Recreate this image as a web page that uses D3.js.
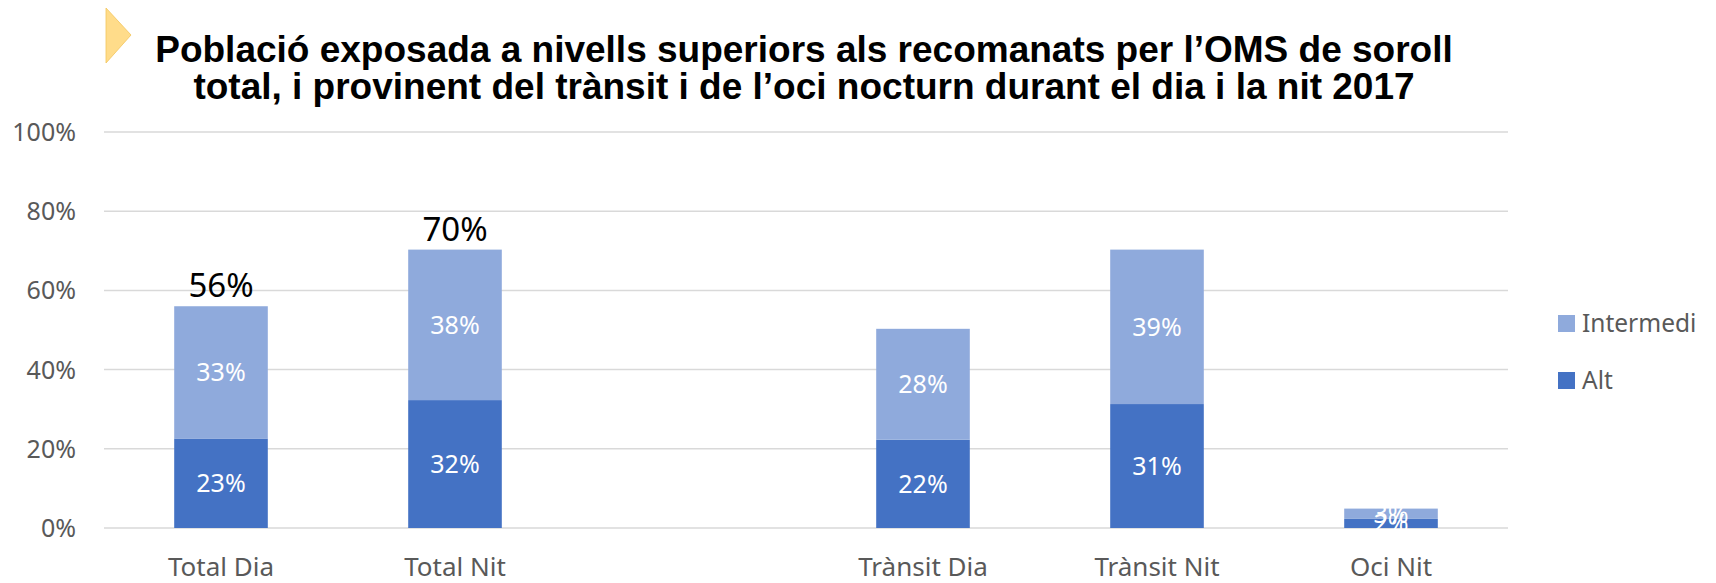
<html>
<head>
    <script src="https://d3js.org/d3.v7.min.js"></script>
    <style>
        body { margin: 0; background: #fff; }
        text { font-family: "Noto Sans", "Open Sans", sans-serif; }
        .title { font-family: "Liberation Sans", Arial, sans-serif; font-weight: bold; font-size: 37px; fill: #000; }
        .tick-label { font-size: 25px; fill: #595959; }
        .cat-label { font-size: 26px; fill: #595959; }
        .seg-label { font-size: 25px; fill: #fff; }
        .total-label { font-size: 33px; fill: #000; }
        .legend text { font-size: 24.5px; fill: #595959; }
    </style>
</head>
<body>
<div id="chart"></div>
<script>
    // data (percent)
    var categories = ["Total Dia", "Total Nit", "", "Trànsit Dia", "Trànsit Nit", "Oci Nit"];
    var altValues = [22.6, 32.3, null, 22.3, 31.3, 2.3];
    var intermediValues = [33.4, 38.0, null, 28.0, 39.0, 2.6];
    var totalLabels = ["56%", "70%", "", "", "", ""];
    var yTicks = [0, 20, 40, 60, 80, 100];
    var seriesNames = ["Intermedi", "Alt"];
    var seriesColors = {"Alt": "#4472C4", "Intermedi": "#8FAADC"};

    var width = 1716;
    var height = 583;
    var plot = {left: 104, right: 1508, top: 132, bottom: 528};

    var svg = d3.select("#chart")
        .append('svg')
        .attr('width', width)
        .attr('height', height);

    // title with little yellow arrow
    svg.append('path')
        .attr('d', 'M106,8 L131,35 L106,63 Z')
        .attr('fill', '#FFDC8A')
        .attr('stroke', '#F2C55C')
        .attr('stroke-width', 0.8);

    var titleLines = [
        "Població exposada a nivells superiors als recomanats per l’OMS de soroll",
        "total, i provinent del trànsit i de l’oci nocturn durant el dia i la nit 2017"
    ];
    svg.selectAll('.title')
        .data(titleLines)
        .enter()
        .append('text')
        .attr('class', 'title')
        .attr('x', 804)
        .attr('y', function(d, i) { return 62 + i * 37; })
        .attr('text-anchor', 'middle')
        .text(function(d) { return d; });

    var x = d3.scaleBand()
        .domain(categories)
        .range([plot.left, plot.right])
        .paddingInner(0.6)
        .paddingOuter(0.3);

    var y = d3.scaleLinear()
        .domain([0, 100])
        .range([plot.bottom, plot.top]);

    // gridlines + y labels
    svg.selectAll('.grid')
        .data(yTicks)
        .enter()
        .append('line')
        .attr('x1', plot.left)
        .attr('x2', plot.right)
        .attr('y1', function(d) { return y(d); })
        .attr('y2', function(d) { return y(d); })
        .attr('stroke', '#d9d9d9')
        .attr('stroke-width', 1.5);

    svg.selectAll('.tick-label')
        .data(yTicks)
        .enter()
        .append('text')
        .attr('class', 'tick-label')
        .attr('x', 76)
        .attr('y', function(d) { return y(d); })
        .attr('dy', '0.36em')
        .attr('text-anchor', 'end')
        .text(function(d) { return d + "%"; });

    // stacked bars
    var rows = categories.map(function(c, i) {
        return {cat: c, Alt: altValues[i] || 0, Intermedi: intermediValues[i] || 0, has: altValues[i] != null};
    });
    var stack = d3.stack().keys(["Alt", "Intermedi"]);
    var layers = stack(rows);

    var layer = svg.selectAll('.layer')
        .data(layers)
        .enter()
        .append('g')
        .attr('fill', function(d) { return seriesColors[d.key]; });

    layer.selectAll('rect')
        .data(function(d) { return d.filter(function(p) { return p.data.has; }); })
        .enter()
        .append('rect')
        .attr('x', function(d) { return x(d.data.cat); })
        .attr('width', x.bandwidth())
        .attr('y', function(d) { return y(d[1]); })
        .attr('height', function(d) { return y(d[0]) - y(d[1]); });

    layers.forEach(function(l) {
        svg.selectAll(null)
            .data(l.filter(function(p) { return p.data.has; }))
            .enter()
            .append('text')
            .attr('class', 'seg-label')
            .attr('x', function(d) { return x(d.data.cat) + x.bandwidth() / 2; })
            .attr('y', function(d) { return y((d[0] + d[1]) / 2); })
            .attr('dy', '0.36em')
            .attr('text-anchor', 'middle')
            .text(function(d) { return Math.round(d[1] - d[0]) + "%"; });
    });

    // totals on top
    svg.selectAll('.total-label')
        .data(rows)
        .enter()
        .append('text')
        .attr('class', 'total-label')
        .attr('x', function(d) { return x(d.cat) + x.bandwidth() / 2; })
        .attr('y', function(d) { return y(d.Alt + d.Intermedi) - 9; })
        .attr('text-anchor', 'middle')
        .text(function(d, i) { return totalLabels[i]; });

    // category labels
    svg.selectAll('.cat-label')
        .data(categories)
        .enter()
        .append('text')
        .attr('class', 'cat-label')
        .attr('x', function(d) { return x(d) + x.bandwidth() / 2; })
        .attr('y', 576)
        .attr('text-anchor', 'middle')
        .text(function(d) { return d; });

    // legend
    var legend = svg.append('g').attr('class', 'legend');
    var items = legend.selectAll('g')
        .data(seriesNames)
        .enter()
        .append('g')
        .attr('transform', function(d, i) { return 'translate(1558,' + (315 + i * 57) + ')'; });
    items.append('rect')
        .attr('width', 17)
        .attr('height', 17)
        .attr('fill', function(d) { return seriesColors[d]; });
    items.append('text')
        .attr('x', 24)
        .attr('y', 8.5)
        .attr('dy', '0.36em')
        .text(function(d) { return d; });
</script>
</body>
</html>
